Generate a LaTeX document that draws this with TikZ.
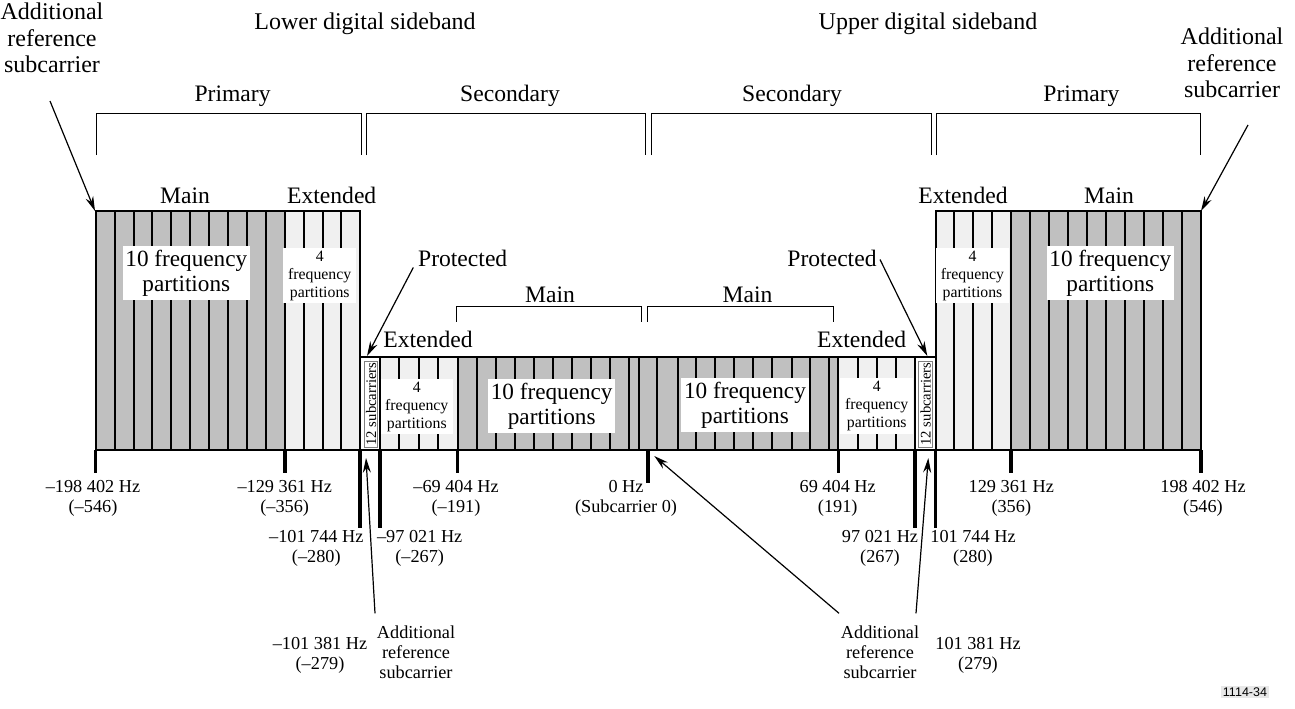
\documentclass[tikz,border=0pt]{standalone}
\usepackage{fontspec}
\setmainfont{Liberation Serif}
\newfontfamily\figsans{Liberation Sans}
\usetikzlibrary{arrows.meta}
\definecolor{maingray}{RGB}{192,192,192}
\definecolor{extgray}{RGB}{240,240,240}
\definecolor{tagbg}{RGB}{232,232,232}
\begin{document}
\begin{tikzpicture}[x=0.75pt,y=-0.75pt,
  toplbl/.style={font=\fontsize{18}{19.9}\selectfont, inner sep=0pt, align=center},
  lbl/.style={font=\fontsize{17.7}{20}\selectfont, inner sep=0pt, anchor=base},
  hz/.style={font=\fontsize{13.7}{15}\selectfont, inner sep=0pt, align=center, anchor=north},
  bigtxt/.style={fill=white, font=\fontsize{17.4}{18.75}\selectfont, align=center, inner xsep=2pt, inner ysep=3pt},
  smalltxt/.style={fill=white, font=\fontsize{11.85}{13.5}\selectfont, align=center, inner xsep=3.5pt, inner ysep=2pt},
  outl/.style={line width=1.6pt},
  strp/.style={line width=1.5pt},
  tck/.style={line width=2.3pt},
  brk/.style={line width=0.75pt},
  arr/.style={line width=0.9pt, -{Stealth[length=11pt,width=6pt]}}]
\useasboundingbox (0,0) rectangle (1295,708);

% ---------- fills ----------
\fill[maingray] (95.7,211) rectangle (285,450);
\fill[extgray] (285,211) rectangle (360,450);
\fill[white] (360,357) rectangle (380,450);
\fill[extgray] (380,357) rectangle (457.7,450);
\fill[maingray] (457.7,357) rectangle (838.3,450);
\fill[extgray] (838.3,357) rectangle (915,450);
\fill[white] (915,357) rectangle (935.7,450);
\fill[extgray] (935.7,211) rectangle (1011,450);
\fill[maingray] (1011,211) rectangle (1201,450);

% ---------- partition stripes ----------
\foreach \k in {1,...,9} \draw[strp] ({95.7+18.93*\k},211) -- ({95.7+18.93*\k},450);
\foreach \k in {1,2,3} \draw[strp] ({285+18.75*\k},211) -- ({285+18.75*\k},450);
\foreach \k in {1,2,3} \draw[strp] ({380+19.4*\k},357) -- ({380+19.4*\k},450);
\foreach \k in {1,...,9} \draw[strp] ({457.7+19*\k},357) -- ({457.7+19*\k},450);
\draw[strp] (639.3,357) -- (639.3,450);
\foreach \xx in {657.3,678.3,696,715,734.3,753.3,772.3,791.7,810,829}
  \draw[strp] (\xx,357) -- (\xx,450);
\foreach \xx in {858.3,877.3,896} \draw[strp] (\xx,357) -- (\xx,450);
\foreach \xx in {954.3,973.3,992.3} \draw[strp] (\xx,211) -- (\xx,450);
\foreach \k in {1,...,9} \draw[strp] ({1011+19*\k},211) -- ({1011+19*\k},450);

% ---------- protected boxes ----------
\draw[gray, line width=0.5pt] (364.5,361) rectangle (377,447);
\draw[gray, line width=0.5pt] (918.5,361) rectangle (932,447);
\node[rotate=90, font=\fontsize{11}{12}\selectfont, inner sep=0pt] (lpt) at (371,404) {12 subcarriers};
\node[rotate=90, font=\fontsize{11}{12}\selectfont, inner sep=0pt] (upt) at (925.5,404) {12 subcarriers};

% ---------- outlines ----------
\draw[outl] (95.7,450) -- (95.7,211) -- (360,211) -- (360,450);
\draw[outl] (285,211) -- (285,450);
\draw[outl] (360,357) -- (935.7,357);
\draw[outl] (380,357) -- (380,450);
\draw[outl] (457.7,357) -- (457.7,450);
\draw[outl] (838.3,357) -- (838.3,450);
\draw[outl] (915,357) -- (915,450);
\draw[outl] (935.7,450) -- (935.7,211) -- (1201,211) -- (1201,450);
\draw[outl] (1011,211) -- (1011,450);
\draw[outl] (95.7,450) -- (1201,450);

% ---------- texts inside blocks ----------
\node[bigtxt] (lm) at (186.3,273.3) {10 frequency\\partitions};
\node[smalltxt] (le) at (319.7,275.5) {4\\frequency\\partitions};
\node[smalltxt] (lse) at (416.8,406.5) {4\\frequency\\partitions};
\node[bigtxt] (lsm) at (551.7,405.8) {10 frequency\\partitions};
\node[bigtxt] (usm) at (745,405.2) {10 frequency\\partitions};
\node[smalltxt] (use) at (876.7,406) {4\\frequency\\partitions};
\node[smalltxt] (ue) at (972.5,275.5) {4\\frequency\\partitions};
\node[bigtxt] (um) at (1110.3,273.3) {10 frequency\\partitions};

% ---------- ticks ----------
\foreach \xx/\yy in {95.7/473,285/473,360/528,380/528,457.7/473,648/483,838.3/473,915/528,935.7/528,1011/473,1201/473}
  \draw[tck] (\xx,450) -- (\xx,\yy);

% ---------- brackets ----------
\draw[brk] (96,155) -- (96,113) -- (361,113) -- (361,155);
\draw[brk] (366,155) -- (366,113) -- (645,113) -- (645,155);
\draw[brk] (651,155) -- (651,113) -- (931,113) -- (931,155);
\draw[brk] (936,155) -- (936,113) -- (1200,113) -- (1200,155);
\draw[brk] (456.7,321.7) -- (456.7,306.7) -- (641.7,306.7) -- (641.7,321.7);
\draw[brk] (647.3,321.7) -- (647.3,306.7) -- (833.3,306.7) -- (833.3,321.7);

% ---------- top labels ----------
\node[lbl, font=\fontsize{18}{20}\selectfont] (lds) at (365,29) {Lower digital sideband};
\node[lbl, font=\fontsize{18}{20}\selectfont] (uds) at (928,29) {Upper digital sideband};
\node[toplbl, anchor=north] (tla) at (52,3) {Additional\\reference\\subcarrier};
\node[toplbl, anchor=north] (tra) at (1232,28) {Additional\\reference\\subcarrier};
\node[lbl] (lp) at (232.6,101) {Primary};
\node[lbl] (ls) at (510,101) {Secondary};
\node[lbl] (us) at (792,101) {Secondary};
\node[lbl] (up) at (1081.5,101) {Primary};
\node[lbl] (lml) at (185,203) {Main};
\node[lbl] (lel) at (331.7,203) {Extended};
\node[lbl] (uel) at (963,203) {Extended};
\node[lbl] (uml) at (1109,203) {Main};
\node[lbl] (lpr) at (462.7,266) {Protected};
\node[lbl] (upr) at (832,266) {Protected};
\node[lbl] (lsml) at (550,302) {Main};
\node[lbl] (usml) at (747.5,302) {Main};
\node[lbl] (lsel) at (428,347.5) {Extended};
\node[lbl] (usel) at (861.7,347.5) {Extended};

% ---------- frequency labels ----------
\node[hz] (f1) at (93,480.5) {–198 402 Hz\\(–546)};
\node[hz] (f2) at (284.7,480.5) {–129 361 Hz\\(–356)};
\node[hz] (f3) at (456,480.5) {–69 404 Hz\\(–191)};
\node[hz] (f4) at (626,480.5) {0 Hz\\(Subcarrier 0)};
\node[hz] (f5) at (837.7,480.5) {69 404 Hz\\(191)};
\node[hz] (f6) at (1011.3,480.5) {129 361 Hz\\(356)};
\node[hz] (f7) at (1203,480.5) {198 402 Hz\\(546)};
\node[hz] (g1) at (316.3,530.5) {–101 744 Hz\\(–280)};
\node[hz] (g2) at (419.7,530.5) {–97 021 Hz\\(–267)};
\node[hz] (g3) at (880,530.5) {97 021 Hz\\(267)};
\node[hz] (g4) at (973,530.5) {101 744 Hz\\(280)};
\node[hz] (h1) at (320,637.5) {–101 381 Hz\\(–279)};
\node[hz] (h2) at (416,625.5) {Additional\\reference\\subcarrier};
\node[hz] (h3) at (880,625.5) {Additional\\reference\\subcarrier};
\node[hz] (h4) at (978,637.5) {101 381 Hz\\(279)};

\node[fill=tagbg, inner sep=1.5pt, font=\figsans\fontsize{9.4}{10}\selectfont] (tag) at (1245,692) {1114-34};

% ---------- arrows ----------
\coordinate (tlS) at (50,101);   \coordinate (tlT) at (95,211);
\coordinate (trS) at (1248,125); \coordinate (trT) at (1201,211);
\coordinate (lpS) at (413.3,267.5); \coordinate (lpT) at (367,356);
\coordinate (upS) at (880,259.5); \coordinate (upT) at (927.3,356);
\coordinate (h2S) at (375,613.3); \coordinate (h2T) at (366,458);
\coordinate (h3S) at (839,613.3); \coordinate (h3T) at (654.3,456);
\coordinate (h3R) at (916,613.3); \coordinate (h3U) at (928.3,458);
\draw[arr] (tlS) -- (tlT);
\draw[arr] (trS) -- (trT);
\draw[arr] (lpS) -- (lpT);
\draw[arr] (upS) -- (upT);
\draw[arr] (h2S) -- (h2T);
\draw[arr] (h3S) -- (h3T);
\draw[arr] (h3R) -- (h3U);
\end{tikzpicture}
\end{document}
